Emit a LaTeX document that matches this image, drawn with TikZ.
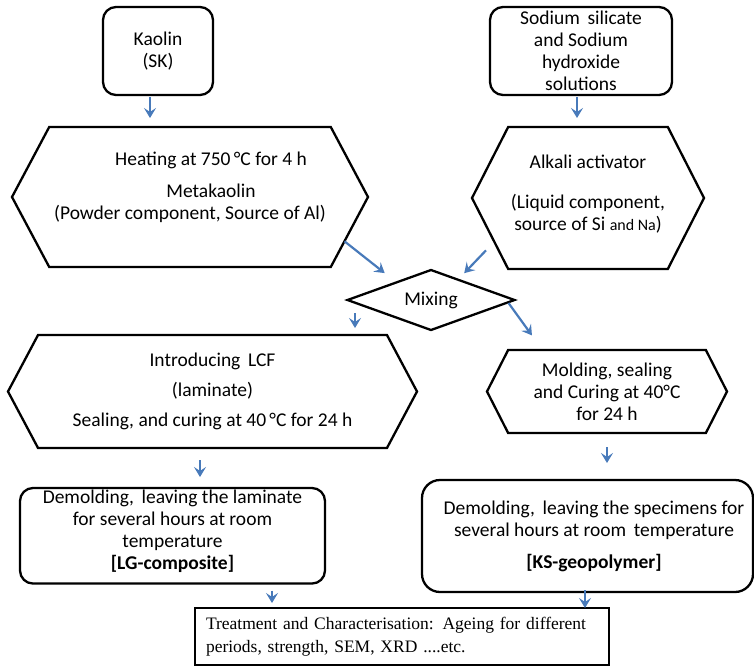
\documentclass[tikz,border=0pt]{standalone}
\usepackage{fontspec}
\setmainfont{Carlito}
\newfontfamily\timesfont{Liberation Serif}
\usepackage{tikz}
\usetikzlibrary{arrows.meta,positioning,shapes.geometric,shapes.symbols}
\definecolor{flowblue}{RGB}{72,122,186}

\begin{document}
\begin{tikzpicture}[
  x=1pt, y=1pt,
  font=\fontsize{19.5}{22}\selectfont,
  rbox/.style={draw, line width=2.3pt, rounded corners=13pt, align=center, inner sep=2pt, outer sep=0pt},
  hexa/.style={draw, line width=2.3pt, shape=signal, signal to=west and east, signal from=nowhere, signal pointer angle=124, align=center, inner sep=2pt, outer sep=0pt},
  flow/.style={-{Stealth[length=10pt,width=12pt,inset=4pt]}, line width=2.2pt, color=flowblue}
]
\useasboundingbox (0,0) rectangle (754,-667);
\node[rbox, minimum width=110pt, minimum height=88pt] (kaolin) at (158,-51) {Kaolin\\(SK)};
\node[rbox, minimum width=182pt, minimum height=88pt, right=277pt of kaolin] (sodium) {Sodium\, silicate\\and Sodium\\hydroxide\\solutions};
\node[hexa, minimum width=356pt, minimum height=140pt, below=32pt of kaolin, xshift=32pt] (heat) {\hspace*{42pt}Heating at 750\,°C for 4 h\\[10pt]\hspace*{42pt}Metakaolin\\(Powder component, Source of Al)\\\mbox{}};
\node[hexa, minimum width=232pt, minimum height=142pt, signal pointer angle=126, below=32pt of sodium, xshift=7pt] (alkali) {Alkali activator\\[18pt](Liquid component,\\source of Si {\fontsize{16}{22}\selectfont and Na})\\[-12pt]\mbox{}};
\node[draw, line width=2.3pt, diamond, aspect=2.8, minimum width=167pt, minimum height=60pt, inner sep=0pt, outer sep=0pt, below=3pt of heat, xshift=241pt] (mix) {Mixing};
\node[hexa, minimum width=409pt, minimum height=113pt, below=5pt of mix, xshift=-218.5pt] (intro) {Introducing\, LCF\\[8pt](laminate)\\[8pt]Sealing, and curing at 40\,°C for 24 h};
\node[hexa, minimum width=240pt, minimum height=83pt, signal pointer angle=126, below=20pt of mix, xshift=176pt] (molding) {Molding, sealing\\and Curing at 40°C\\for 24 h};
\node[rbox, minimum width=305pt, minimum height=95pt, below=40pt of intro, xshift=-40pt] (demolL) {Demolding,\, leaving the laminate\\for several hours at room\\temperature\\\textbf{[LG-composite]}\\[-10pt]\mbox{}};
\node[rbox, rounded corners=18pt, minimum width=331pt, minimum height=112pt, below=47pt of molding, xshift=-19.5pt] (demolR) {\hspace*{13pt}Demolding,\, leaving the specimens for\\\hspace*{13pt}several hours at room\, temperature\\[10pt]\hspace*{13pt}\textbf{[KS-geopolymer]}};
\node[draw, line width=2.8pt, outer sep=0pt, minimum width=414pt, minimum height=57pt, text width=392pt, inner xsep=11pt, align=left, font=\timesfont\fontsize{17.5}{23}\selectfont, below=16pt of demolR, xshift=-185.5pt] (treat) {\mbox{Treatment and Characterisation: Ageing for different}\\\mbox{periods, strength, SEM, XRD ....etc.}};
\draw[flow, shorten <=2pt, shorten >=9pt] ([xshift=-8pt]kaolin.south) -- ([xshift=-40pt]heat.north);
\draw[flow, shorten <=2pt, shorten >=9pt] ([xshift=-4pt]sodium.south) -- ([xshift=-11pt]alkali.north);
\draw[flow, shorten >=15pt] (heat.-16.5) -- (mix.153);
\draw[flow, shorten <=12pt, shorten >=9pt] (alkali.205.6) -- (mix.37.7);
\draw[flow, shorten <=13pt, shorten >=7pt] ([xshift=-76pt]mix.center) -- ([xshift=142.5pt]intro.north);
\draw[flow, shorten >=18pt] ([shift={(-6,-3)}]mix.east) -- ([xshift=-64.5pt]molding.north);
\draw[flow, shorten <=12pt, shorten >=11pt] ([xshift=-12.5pt]intro.south) -- ([xshift=27.5pt]demolL.north);
\draw[flow, shorten <=14pt, shorten >=17pt] (molding.south) -- ([xshift=19.5pt]demolR.north);
\draw[flow, shorten <=7pt, shorten >=5pt] ([xshift=99.5pt]demolL.south) -- ([xshift=-130pt]treat.north);
\draw[flow, shorten <=-2pt] ([xshift=-2.5pt]demolR.south) -- ([xshift=183pt]treat.north);
\end{tikzpicture}
\end{document}
